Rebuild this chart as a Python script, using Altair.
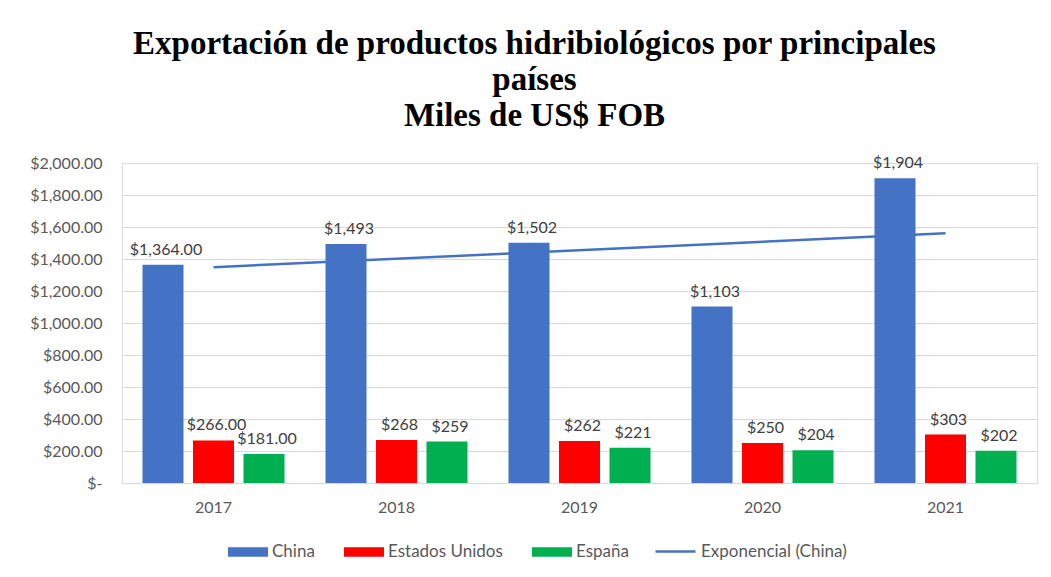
import altair as alt
import pandas as pd

years = ["2017", "2018", "2019", "2020", "2021"]
series = ["China", "Estados Unidos", "España"]
china = [1364, 1493, 1502, 1103, 1904]
usa = [266, 268, 262, 250, 303]
espana = [181, 259, 221, 204, 202]
china_lbl = ["$1,364.00", "$1,493", "$1,502", "$1,103", "$1,904"]
usa_lbl = ["$266.00", "$268", "$262", "$250", "$303"]
espana_lbl = ["$181.00", "$259", "$221", "$204", "$202"]
y_ticks = [0, 200, 400, 600, 800, 1000, 1200, 1400, 1600, 1800, 2000]
colors = ["#4472C4", "#FF0000", "#00B050"]
trend_name = "Exponencial (China)"
trend_color = "#4472C4"
title_lines = ["Exportación de productos hidribiológicos por principales", "países", "Miles de US$ FOB"]

rows = []
for s, vals, lbls in zip(series, [china, usa, espana], [china_lbl, usa_lbl, espana_lbl]):
    for y, v, l in zip(years, vals, lbls):
        rows.append({"anio": y, "serie": s, "valor": v, "etiqueta": l})
df = pd.DataFrame(rows)

trend_df = pd.DataFrame({"anio_num": [int(y) for y in years], "valor": china})

FONT = "Lato"
GREY = "#595959"
NB = "\u00a0"

y_axis = alt.Axis(values=y_ticks, title=None, ticks=False, domain=False, labelOverlap=False,
                  gridColor="#d9d9d9", labelFont=FONT, labelFontSize=16,
                  labelColor=GREY, labelPadding=20,
                  labelExpr=f"datum.value == 0 ? '$-{NB}{NB}' : '$' + format(datum.value, ',.2f')")
y_scale = alt.Scale(domain=[0, 2000], nice=False)

x_band = alt.X("anio:N", sort=years,
               scale=alt.Scale(paddingInner=0.224, paddingOuter=0.112),
               axis=alt.Axis(title=None, labelAngle=0, ticks=False, domainColor="#d9d9d9",
                             labelFont=FONT, labelFontSize=16, labelColor=GREY, labelPadding=16,
                             grid=False))
x_off = alt.XOffset("serie:N", sort=series, scale=alt.Scale(paddingInner=0.188))

leg_common = dict(title=None, orient="none", direction="horizontal", labelFont=FONT,
                  labelFontSize=17, labelColor=GREY, labelOffset=4, symbolSize=1600)

bars = alt.Chart(df).mark_bar().encode(
    x=x_band, xOffset=x_off,
    y=alt.Y("valor:Q", scale=y_scale, axis=y_axis),
    color=alt.Color("serie:N", sort=series, scale=alt.Scale(domain=series, range=colors),
                    legend=alt.Legend(legendX=106, legendY=369, columns=3, columnPadding=29,
                                      symbolType="M-1,-0.24 H1 V0.24 H-1 Z", symbolStrokeWidth=0,
                                      **leg_common)),
)
labels = alt.Chart(df).mark_text(baseline="bottom", dy=-7, dx=3, font=FONT, fontSize=16,
                                 color="#404040").encode(
    x=x_band, xOffset=x_off,
    y=alt.Y("valor:Q", scale=y_scale, axis=y_axis),
    text="etiqueta:N",
)
base = alt.layer(bars, labels)

trend = alt.Chart(trend_df).transform_calculate(
    ln_valor="log(datum.valor)"
).transform_regression(
    "anio_num", "ln_valor", method="linear", extent=[2017, 2021]
).transform_calculate(
    valor="exp(datum.ln_valor)", serie=f"'{trend_name}'"
).mark_line(strokeWidth=2.5).encode(
    x=alt.X("anio_num:Q", scale=alt.Scale(domain=[2016.5, 2021.5], nice=False, zero=False), axis=None),
    y=alt.Y("valor:Q", scale=y_scale, axis=y_axis),
    color=alt.Color("serie:N", scale=alt.Scale(domain=[trend_name], range=[trend_color]),
                    legend=alt.Legend(legendX=532, legendY=367, symbolType="stroke",
                                      symbolStrokeWidth=2.5, **leg_common)),
)

chart = alt.layer(base, trend).resolve_scale(
    x="independent", color="independent"
).properties(
    width=915, height=320,
    title=alt.Title(title_lines, font="Liberation Serif", fontSize=33, fontWeight="bold",
                    color="black", anchor="middle", dx=-45, offset=22, lineHeight=36),
    autosize=alt.AutoSizeParams(type="none"),
    padding={"left": 114, "top": 155, "right": 6, "bottom": 86},
).configure_view(stroke=None).configure(background="white")

chart.save("out.html", embed_options={"renderer": "svg", "actions": False})
